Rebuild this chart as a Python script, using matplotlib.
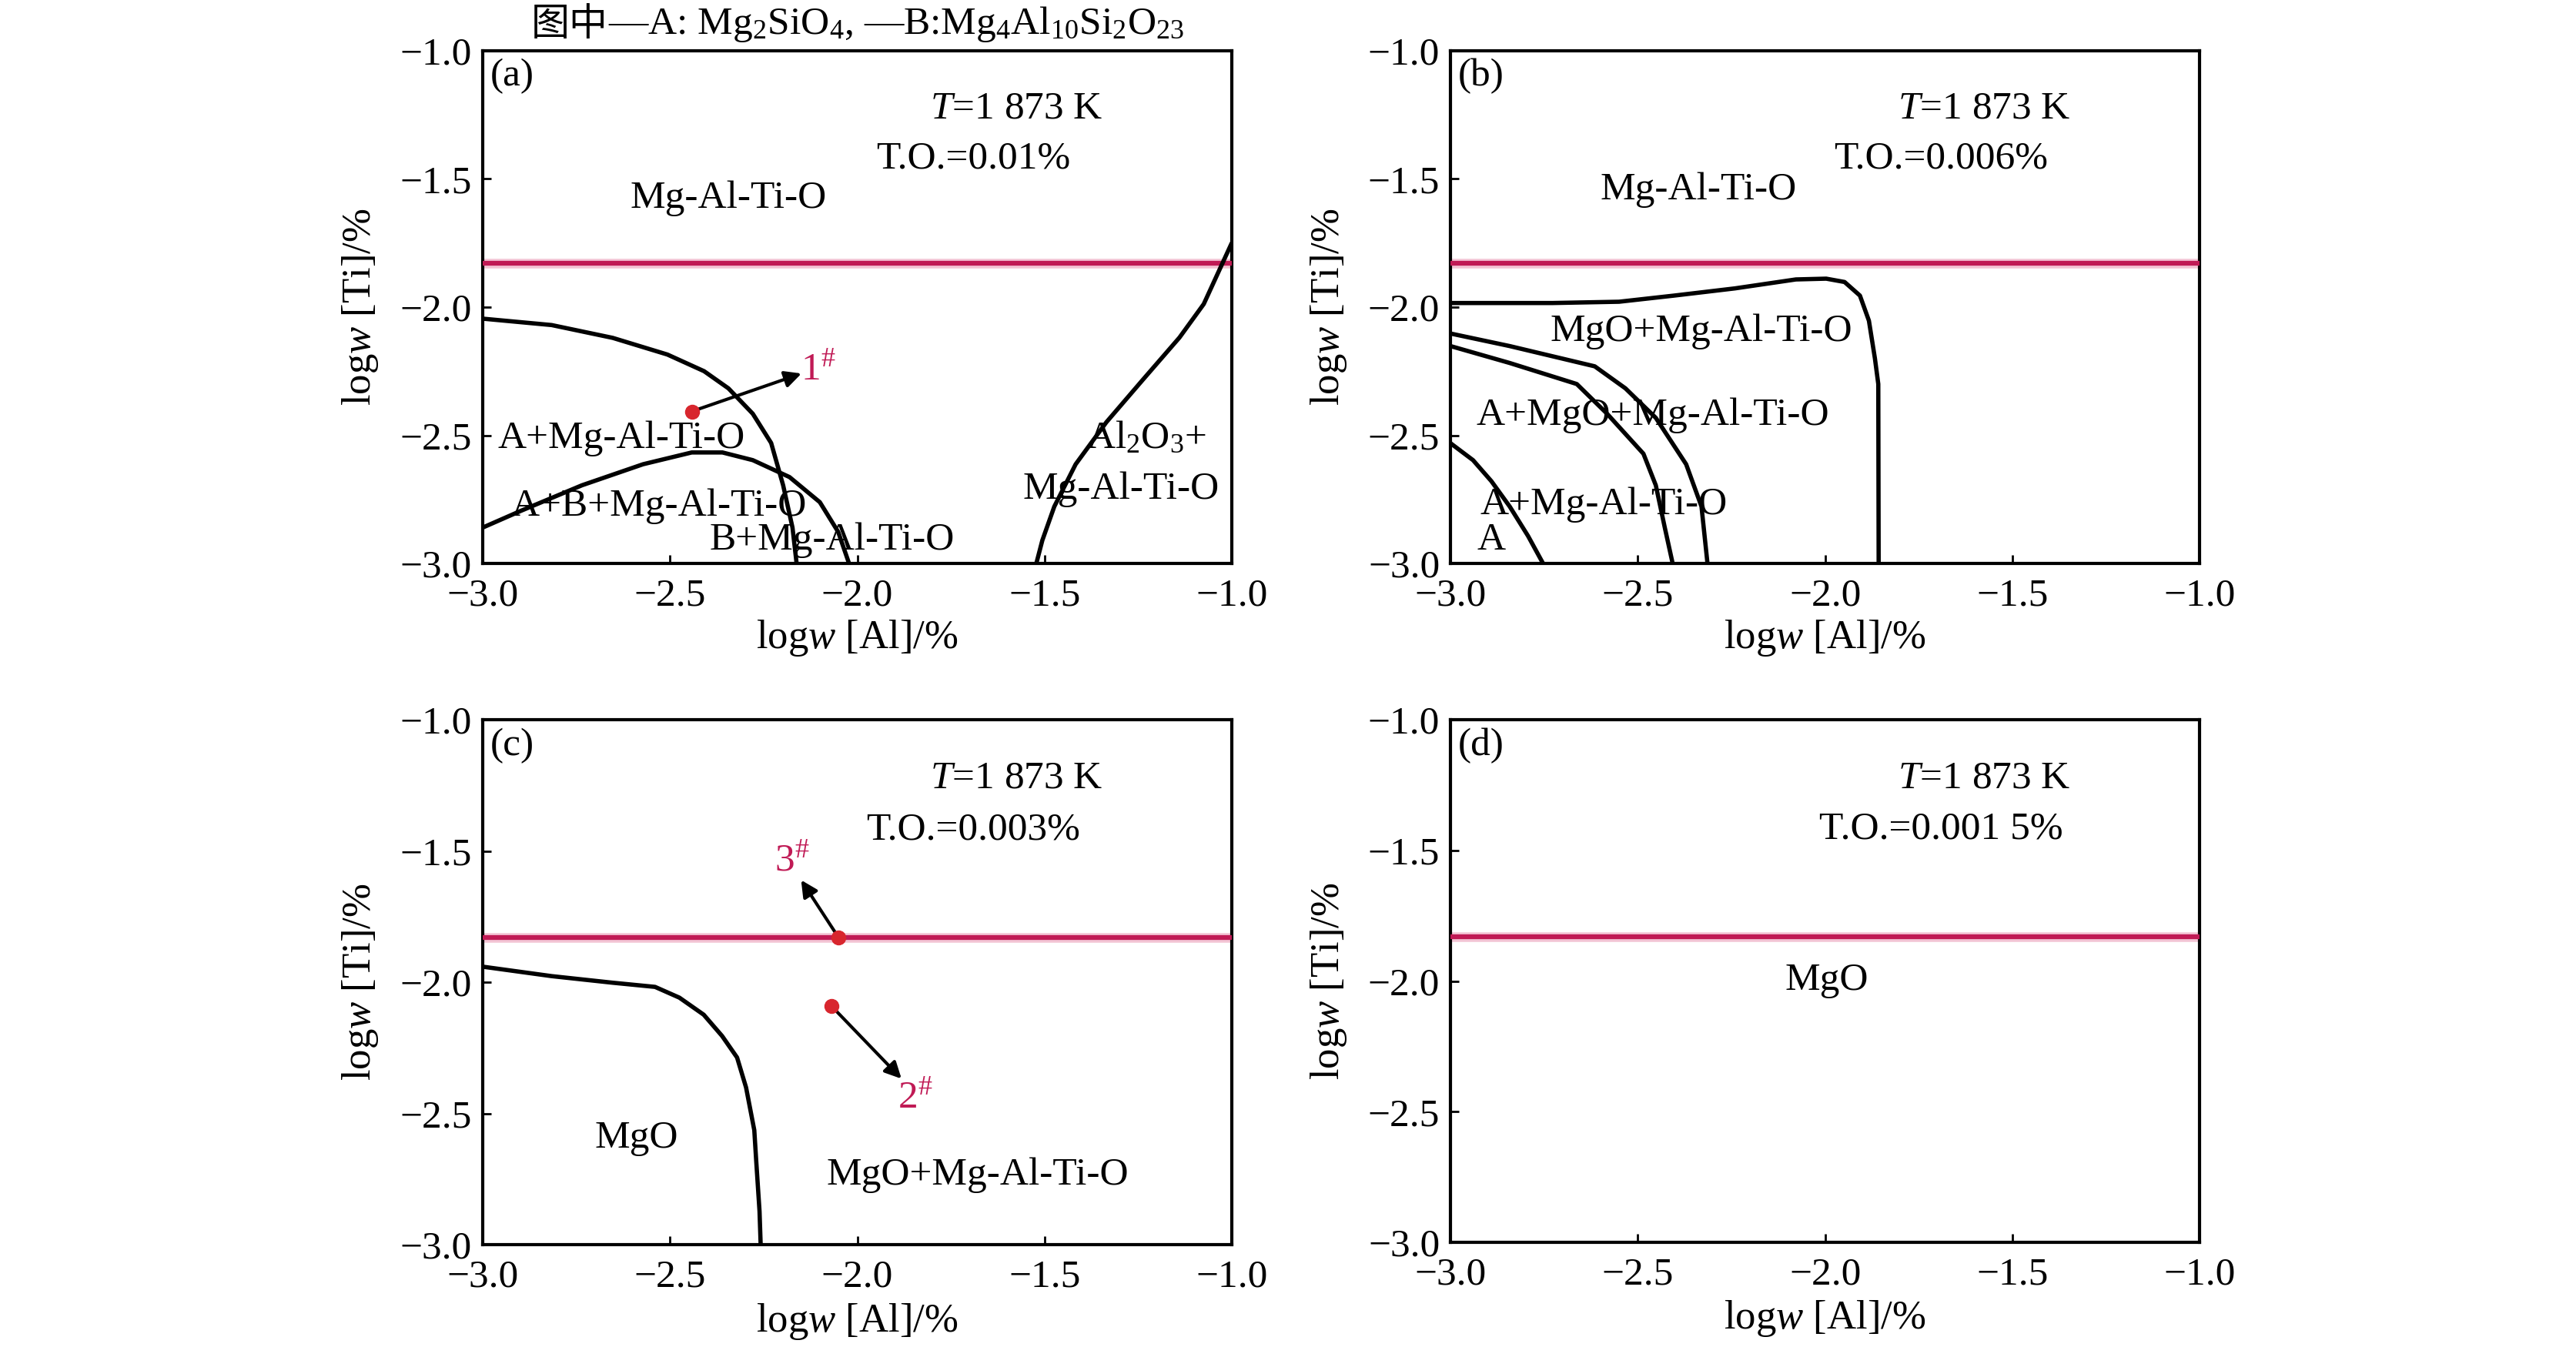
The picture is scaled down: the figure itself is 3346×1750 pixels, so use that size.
import matplotlib
matplotlib.use("Agg")
import matplotlib.pyplot as plt

plt.rcParams['font.family'] = ['Liberation Serif', 'Noto Sans CJK SC']
plt.rcParams['mathtext.fontset'] = 'custom'
plt.rcParams['mathtext.rm'] = 'Liberation Serif'
plt.rcParams['mathtext.it'] = 'Liberation Serif:italic'
plt.rcParams['axes.unicode_minus'] = True

# Ti 临界线
ti_line = -1.83

# (a) T.O.=0.01%
a_c1_x = [-3.0, -2.816, -2.653, -2.507, -2.409, -2.344, -2.279, -2.23, -2.198, -2.173, -2.162]
a_c1_y = [-2.045, -2.07, -2.12, -2.185, -2.25, -2.317, -2.416, -2.53, -2.695, -2.86, -3.0]
a_c2_x = [-3.0, -2.897, -2.735, -2.572, -2.442, -2.36, -2.279, -2.181, -2.1, -2.051, -2.022]
a_c2_y = [-2.86, -2.794, -2.695, -2.613, -2.567, -2.567, -2.597, -2.663, -2.761, -2.877, -3.0]
a_c3_x = [-1.522, -1.506, -1.474, -1.417, -1.335, -1.238, -1.14, -1.075, -1.0]
a_c3_y = [-3.0, -2.91, -2.778, -2.613, -2.449, -2.284, -2.119, -1.988, -1.749]

# (b) T.O.=0.006%
b_c1_x = [-3.0, -2.728, -2.55, -2.403, -2.241, -2.078, -1.997, -1.948, -1.907, -1.883, -1.867, -1.858, -1.857]
b_c1_y = [-1.984, -1.984, -1.979, -1.955, -1.927, -1.892, -1.889, -1.902, -1.955, -2.053, -2.2, -2.3, -3.0]
b_c2_x = [-3.0, -2.842, -2.615, -2.533, -2.452, -2.371, -2.33, -2.314]
b_c2_y = [-2.103, -2.152, -2.231, -2.317, -2.432, -2.613, -2.778, -3.0]
b_c3_x = [-3.0, -2.842, -2.663, -2.582, -2.485, -2.452, -2.428, -2.407]
b_c3_y = [-2.152, -2.218, -2.3, -2.416, -2.572, -2.695, -2.86, -3.0]
b_c4_x = [-3.0, -2.94, -2.891, -2.842, -2.793, -2.753]
b_c4_y = [-2.531, -2.597, -2.679, -2.778, -2.893, -3.0]

# (c) T.O.=0.003%
c_c1_x = [-3.0, -2.816, -2.654, -2.54, -2.475, -2.41, -2.361, -2.321, -2.297, -2.275, -2.27, -2.261, -2.258]
c_c1_y = [-1.941, -1.977, -2.002, -2.018, -2.059, -2.124, -2.205, -2.287, -2.401, -2.564, -2.678, -2.873, -3.0]

# 试样点 (x, y) 和箭头终点
pt1 = (-2.442, -2.407)
pt1_end = (-2.149, -2.259)
pt3 = (-2.05, -1.83)
pt3_end = (-2.15, -1.611)
pt2 = (-2.069, -2.091)
pt2_end = (-1.882, -2.368)

ticks_x = [-3.0, -2.5, -2.0, -1.5, -1.0]
ticks_y = [-3.0, -2.5, -2.0, -1.5, -1.0]

fig = plt.figure(figsize=(33.46, 17.5), dpi=100)
pos = {
    'a': [0.1874, 0.5817, 0.2908, 0.3806],
    'b': [0.5631, 0.5817, 0.2908, 0.3806],
    'c': [0.1874, 0.0760, 0.2908, 0.3897],
    'd': [0.5631, 0.0777, 0.2908, 0.3880],
}

FS = 37
red = '#c01a55'


def fmt(v):
    return ('%.1f' % v).replace('-', '\u2212')


def setup(ax, tag, to):
    ax.set_xlim(-3.0, -1.0)
    ax.set_ylim(-3.0, -1.0)
    ax.set_xticks(ticks_x)
    ax.set_yticks(ticks_y)
    ax.set_xticklabels([fmt(v) for v in ticks_x])
    ax.set_yticklabels([fmt(v) for v in ticks_y])
    ax.tick_params(direction='in', length=8, width=2, labelsize=37, top=False, right=False)
    ax.tick_params(axis='x', pad=14)
    ax.tick_params(axis='y', pad=10)
    for s in ax.spines.values():
        s.set_linewidth(3)
    ax.set_xlabel('log$w$ [Al]/%', fontsize=38)
    ax.set_ylabel('log$w$ [Ti]/%', fontsize=38)
    ax.yaxis.label.set_va('center')
    ax.xaxis.label.set_va('center')
    ax.yaxis.set_label_coords(-0.163, 0.5)
    ax.xaxis.set_label_coords(0.5, -0.146)
    ax.text(-2.98, -1.1, '(%s)' % tag, fontsize=FS, ha='left', va='center')
    ax.text(-1.575, -1.225, '$T$=1 873 K', fontsize=FS, ha='center', va='center')
    ax.text(-1.69, -1.42, 'T.O.=%s' % to, fontsize=FS, ha='center', va='center')
    ax.axhline(ti_line, color='#f3c4d4', lw=9, zorder=2)
    ax.axhline(ti_line, color=red, lw=4.5, zorder=3)


def curve(ax, x, y):
    ax.plot(x, y, color='black', lw=4, solid_capstyle='butt', zorder=4)


def sample(ax, p, end, label, lpos):
    ax.annotate('', xy=end, xytext=p,
                arrowprops=dict(arrowstyle='-|>', color='black', lw=3, mutation_scale=32,
                                shrinkA=0, shrinkB=0), zorder=6)
    ax.plot([p[0]], [p[1]], 'o', color='#d8262e', ms=13, zorder=7)
    ax.text(lpos[0], lpos[1], label, fontsize=FS, color=red, ha='center', va='center')


# (a)
ax = fig.add_axes(pos['a'])
setup(ax, 'a', '0.01%')
curve(ax, a_c1_x, a_c1_y)
curve(ax, a_c2_x, a_c2_y)
curve(ax, a_c3_x, a_c3_y)
sample(ax, pt1, pt1_end, '1$^{\\#}$', (-2.105, -2.245))
ax.text(-2.344, -1.576, 'Mg-Al-Ti-O', fontsize=FS, ha='center', va='center')
ax.text(-2.629, -2.514, 'A+Mg-Al-Ti-O', fontsize=FS, ha='center', va='center')
ax.text(-1.229, -2.514, 'Al$_2$O$_3$+', fontsize=FS, ha='center', va='center')
ax.text(-1.295, -2.712, 'Mg-Al-Ti-O', fontsize=FS, ha='center', va='center')
ax.text(-2.531, -2.778, 'A+B+Mg-Al-Ti-O', fontsize=FS, ha='center', va='center')
ax.text(-2.068, -2.909, 'B+Mg-Al-Ti-O', fontsize=FS, ha='center', va='center')

# (b)
ax = fig.add_axes(pos['b'])
setup(ax, 'b', '0.006%')
curve(ax, b_c1_x, b_c1_y)
curve(ax, b_c2_x, b_c2_y)
curve(ax, b_c3_x, b_c3_y)
curve(ax, b_c4_x, b_c4_y)
ax.text(-2.338, -1.543, 'Mg-Al-Ti-O', fontsize=FS, ha='center', va='center')
ax.text(-2.33, -2.095, 'MgO+Mg-Al-Ti-O', fontsize=FS, ha='center', va='center')
ax.text(-2.46, -2.424, 'A+MgO+Mg-Al-Ti-O', fontsize=FS, ha='center', va='center')
ax.text(-2.59, -2.77, 'A+Mg-Al-Ti-O', fontsize=FS, ha='center', va='center')
ax.text(-2.891, -2.91, 'A', fontsize=FS, ha='center', va='center')

# (c)
ax = fig.add_axes(pos['c'])
setup(ax, 'c', '0.003%')
curve(ax, c_c1_x, c_c1_y)
sample(ax, pt3, pt3_end, '3$^{\\#}$', (-2.175, -1.537))
sample(ax, pt2, pt2_end, '2$^{\\#}$', (-1.845, -2.441))
ax.text(-2.589, -2.596, 'MgO', fontsize=FS, ha='center', va='center')
ax.text(-1.679, -2.734, 'MgO+Mg-Al-Ti-O', fontsize=FS, ha='center', va='center')

# (d)
ax = fig.add_axes(pos['d'])
setup(ax, 'd', '0.001 5%')
ax.text(-1.995, -1.998, 'MgO', fontsize=FS, ha='center', va='center')

# 顶部说明
fig.canvas.draw()
r = fig.canvas.get_renderer()
t2 = fig.text(0, 0.982, '—A: Mg$_2$SiO$_4$, —B:Mg$_4$Al$_{10}$Si$_2$O$_{23}$',
              fontsize=37, ha='left', va='center', family='Liberation Serif')
t1 = fig.text(0, 0.982, '图中', fontsize=36, ha='left', va='center',
              family=['Noto Sans CJK SC'])
w1 = t1.get_window_extent(r).width
w2 = t2.get_window_extent(r).width
x0 = 1114 - (w1 + w2) / 2
t1.set_x(x0 / fig.bbox.width)
t2.set_x((x0 + w1) / fig.bbox.width)

fig.savefig('out.png', dpi=100)
